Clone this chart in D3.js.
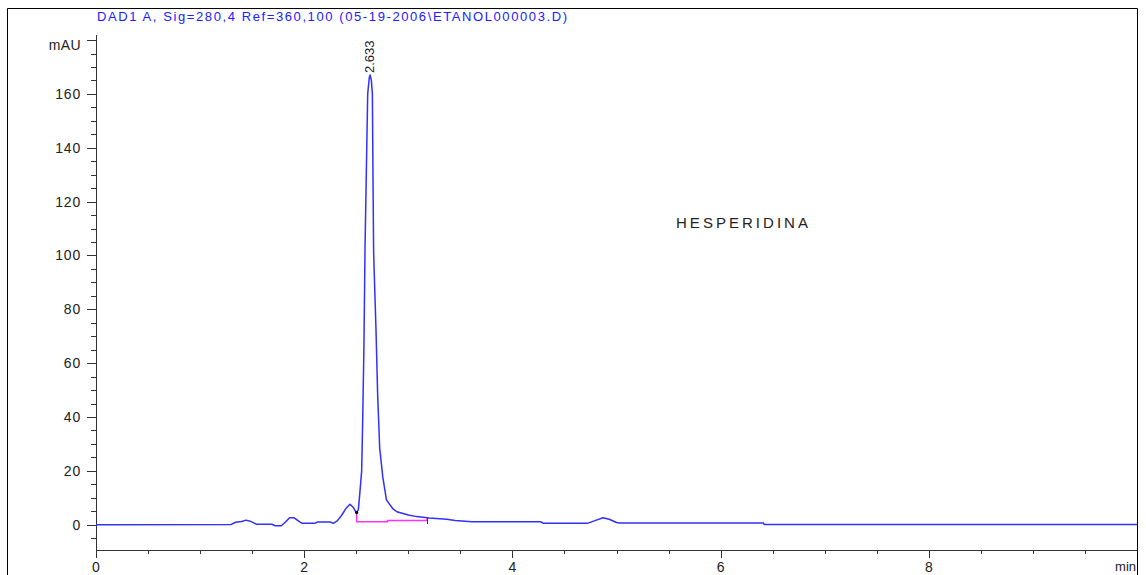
<!DOCTYPE html>
<html>
<head>
<meta charset="utf-8">
<script src="https://cdn.jsdelivr.net/npm/d3@7"></script>
<style>
  html, body { margin: 0; padding: 0; background: #fff; }
  svg { display: block; font-family: "Liberation Sans", Arial, sans-serif; }
</style>
</head>
<body>
<svg id="chart" width="1146" height="575"></svg>
<script>
// Chromatogram signal (min, mAU)
const times = [0, 1.30, 1.34, 1.40, 1.44, 1.48, 1.54, 1.69, 1.72, 1.78, 1.82, 1.86, 1.90, 1.95, 1.98,
    2.10, 2.13, 2.25, 2.28, 2.32, 2.36, 2.40, 2.44, 2.47, 2.50, 2.52, 2.535, 2.552, 2.562, 2.574,
    2.584, 2.600, 2.610, 2.625, 2.633, 2.645, 2.655, 2.660, 2.667, 2.690, 2.705, 2.725, 2.755,
    2.79, 2.85, 2.89, 3.00, 3.08, 3.20, 3.37, 3.45, 3.61, 4.27, 4.30, 4.72, 4.80, 4.87, 4.93,
    5.00, 5.03, 6.41, 6.42, 10];
const signal = [0, 0.1, 0.9, 1.2, 1.7, 1.3, 0.2, 0.15, -0.4, -0.4, 1.0, 2.6, 2.6, 1.2, 0.5,
    0.5, 1.0, 1.0, 0.5, 1.5, 3.5, 6.0, 7.6, 6.5, 4.5, 5.5, 12, 20, 39, 67,
    102, 138, 160, 166, 167, 165, 160, 133, 101, 72, 49, 28.5, 17.7,
    9.2, 6.0, 4.8, 3.6, 3.0, 2.5, 2.0, 1.6, 1.1, 1.1, 0.5, 0.5, 1.6, 2.6, 2.0,
    0.8, 0.6, 0.6, 0.1, 0.1];

// Integration baseline under the main peak
const baseTimes = [2.504, 2.79, 2.80, 3.08, 3.18];
const baseValues = [1.1, 1.1, 1.6, 1.6, 2.1];

const xMajorTicks = [0, 2, 4, 6, 8];
const yMajorTicks = [0, 20, 40, 60, 80, 100, 120, 140, 160];

const peakTime = 2.633;
const peakValue = 167;
const peakLabel = "2.633";
const titleText = "DAD1 A, Sig=280,4 Ref=360,100 (05-19-2006\\ETANOL000003.D)";
const noteText = "HESPERIDINA";

const svg = d3.select("#chart");

const x = d3.scaleLinear().domain([0, 10]).range([96, 1137]);
const y = d3.scaleLinear().domain([-9.4, 181.5]).range([550, 36]);

// Outer frame
svg.append("path")
    .attr("d", "M7.5,576 V8.5 H1137.5 V576")
    .attr("fill", "none")
    .attr("stroke", "#000")
    .attr("stroke-width", 1);

// Title
svg.append("text")
    .attr("x", 97)
    .attr("y", 21)
    .attr("fill", "#2020ff")
    .attr("font-size", 13)
    .attr("textLength", 470)
    .attr("lengthAdjust", "spacing")
    .text(titleText);

const axisColor = "#333";

// --- Y axis ---
const yAxis = svg.append("g");
yAxis.append("line")
    .attr("x1", 96.5).attr("x2", 96.5)
    .attr("y1", 35).attr("y2", 550)
    .attr("stroke", axisColor);

yAxis.selectAll(".yminor")
    .data(d3.range(-5, 181, 5).filter(v => v % 20 !== 0))
    .enter().append("line")
    .attr("x1", 91).attr("x2", 96)
    .attr("y1", d => Math.round(y(d)) + 0.5)
    .attr("y2", d => Math.round(y(d)) + 0.5)
    .attr("stroke", axisColor);

yAxis.selectAll(".ymajor")
    .data(yMajorTicks.concat([180]))
    .enter().append("line")
    .attr("x1", 87).attr("x2", 96)
    .attr("y1", d => Math.round(y(d)) + 0.5)
    .attr("y2", d => Math.round(y(d)) + 0.5)
    .attr("stroke", axisColor);

yAxis.selectAll(".ylabel")
    .data(yMajorTicks)
    .enter().append("text")
    .attr("x", 81)
    .attr("y", d => y(d))
    .attr("dy", "0.36em")
    .attr("text-anchor", "end")
    .attr("font-size", 14)
    .attr("letter-spacing", 0.8)
    .attr("fill", "#222")
    .text(d => d);

svg.append("text")
    .attr("x", 81)
    .attr("y", y(180) + 5)
    .attr("dy", "0.36em")
    .attr("text-anchor", "end")
    .attr("font-size", 14)
    .attr("letter-spacing", 0.4)
    .attr("fill", "#222")
    .text("mAU");

// --- X axis ---
const xAxis = svg.append("g");
xAxis.append("line")
    .attr("x1", 96).attr("x2", 1137)
    .attr("y1", 550.5).attr("y2", 550.5)
    .attr("stroke", axisColor);

xAxis.selectAll(".xminor")
    .data(d3.range(0.5, 10, 0.5).filter(v => v % 2 !== 0))
    .enter().append("line")
    .attr("x1", d => Math.round(x(d)) + 0.5)
    .attr("x2", d => Math.round(x(d)) + 0.5)
    .attr("y1", 550).attr("y2", 554)
    .attr("stroke", axisColor);

xAxis.selectAll(".xmajor")
    .data(xMajorTicks)
    .enter().append("line")
    .attr("x1", d => Math.round(x(d)) + 0.5)
    .attr("x2", d => Math.round(x(d)) + 0.5)
    .attr("y1", 550).attr("y2", 558)
    .attr("stroke", axisColor);

xAxis.selectAll(".xlabel")
    .data(xMajorTicks)
    .enter().append("text")
    .attr("x", d => x(d))
    .attr("y", 572)
    .attr("text-anchor", "middle")
    .attr("font-size", 14)
    .attr("fill", "#222")
    .text(d => d);

svg.append("text")
    .attr("x", 1136)
    .attr("y", 571)
    .attr("text-anchor", "end")
    .attr("font-size", 13)
    .attr("fill", "#222")
    .text("min");

// --- Signal trace ---
const line = d3.line()
    .x(d => x(d[0]))
    .y(d => y(d[1]));

svg.append("path")
    .datum(times.map((t, i) => [t, signal[i]]))
    .attr("fill", "none")
    .attr("stroke", "#3030ff")
    .attr("stroke-width", 1.5)
    .attr("stroke-linejoin", "round")
    .attr("d", line);

// Integration baseline (magenta) with drop line at the start
const basePts = [[baseTimes[0], signal[times.indexOf(2.50)]]]
    .concat(baseTimes.map((t, i) => [t, baseValues[i]]));
svg.append("path")
    .datum(basePts)
    .attr("fill", "none")
    .attr("stroke", "#ff33ff")
    .attr("stroke-width", 1.5)
    .attr("d", d3.line().x(d => x(d[0])).y(d => y(d[1])).curve(d3.curveStepAfter));

// Start / end markers of the integration
svg.append("circle")
    .attr("cx", x(baseTimes[0]))
    .attr("cy", y(signal[times.indexOf(2.50)]))
    .attr("r", 1.6)
    .attr("fill", "#000");

const endT = baseTimes[baseTimes.length - 1];
svg.append("line")
    .attr("x1", Math.round(x(endT)) + 0.5)
    .attr("x2", Math.round(x(endT)) + 0.5)
    .attr("y1", y(baseValues[baseValues.length - 1]) - 1)
    .attr("y2", y(baseValues[baseValues.length - 1]) + 5)
    .attr("stroke", "#333");

// Retention time label, rotated above the apex
svg.append("text")
    .attr("transform", `translate(${x(peakTime) + 4},${y(peakValue) - 2}) rotate(-90)`)
    .attr("font-size", 13)
    .attr("fill", "#222")
    .text(peakLabel);

// Compound name
svg.append("text")
    .attr("x", 676)
    .attr("y", 228)
    .attr("font-size", 15)
    .attr("textLength", 132)
    .attr("lengthAdjust", "spacing")
    .attr("fill", "#222")
    .text(noteText);
</script>
</body>
</html>
